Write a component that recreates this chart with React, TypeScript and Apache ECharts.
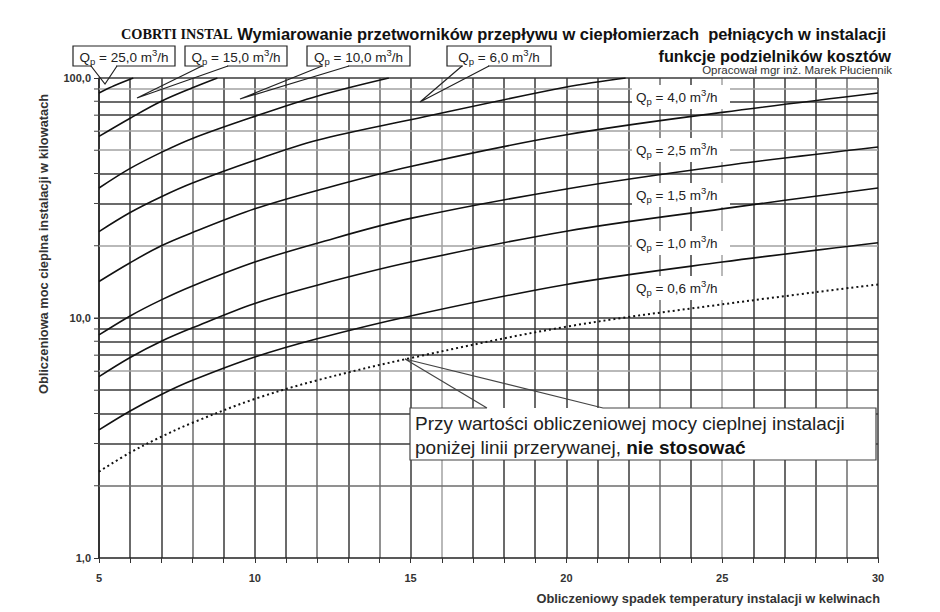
import React, { useEffect, useRef } from 'react';
import * as echarts from 'echarts';

const FONT = "'Liberation Sans', Arial, Helvetica, sans-serif";
const SERIF = "'Liberation Serif', 'Times New Roman', serif";

// ---- axes ----
const xMin = 5;
const xMax = 30;
const yMin = 1;
const yMax = 100;

// ---- series : [ΔT in K, power in kW] ----
const qpNames = ['25,0', '15,0', '10,0', '6,0', '4,0', '2,5', '1,5', '1,0', '0,6'];
const q25 = [[5, 86.6], [5.5, 93], [6.1, 100]];
const q15 = [[5, 57.1], [6, 68], [7, 80], [8, 91], [8.8, 100]];
const q10 = [[5, 34.8], [6, 42], [7, 49], [8, 56], [10, 69.2], [12, 84], [14.3, 100]];
const q6 = [[5, 22.9], [6, 27.5], [7, 32], [8, 36.5], [10, 45.4], [12, 55], [15, 67], [20, 91.7], [21.9, 100]];
const q4 = [[5, 14.2], [6, 17], [7, 20], [8, 22.7], [10, 28.5], [12, 34], [15, 42.8], [20, 58], [25, 71.9], [30, 86.6]];
const q2_5 = [[5, 8.5], [6, 10.2], [7, 11.9], [8, 13.6], [10, 17.1], [12, 20.5], [15, 26], [20, 34.5], [25, 43], [30, 51.6]];
const q1_5 = [[5, 5.7], [6, 6.85], [7, 8], [8, 9.1], [10, 11.5], [12, 13.7], [15, 17.1], [20, 23], [25, 28.5], [30, 34.8]];
const q1_0 = [[5, 3.42], [6, 4.1], [7, 4.8], [8, 5.5], [10, 6.88], [12, 8.2], [15, 10.2], [20, 13.8], [25, 17.1], [30, 20.6]];
const q0_6 = [[5, 2.29], [6, 2.75], [7, 3.2], [8, 3.66], [10, 4.6], [12, 5.5], [15, 6.81], [20, 9.2], [25, 11.4], [30, 13.8]];

// ---- grid lines ----
const yGridValues = [2, 3, 4, 5, 6, 7, 8, 9, 10, 20, 30, 40, 50, 60, 70, 80, 90, 100];
const yGridTones = ['m', 'd', 'd', 'd', 'l', 'd', 'd', 'd', 'd', 'l', 'd', 'd', 'l', 'l', 'd', 'd', 'l', 'd'];
const xGridTones = ['d', 'd', 'd', 'm', 'd', 'd', 'd', 'm', 'd', 'm', 'd', 'l', 'd', 'd', 'd', 'd', 'd', 'd', 'm', 'd', 'l', 'd', 'd', 'd', 'm', 'd'];
const TONE: Record<string, string> = { d: '#3a3a3a', m: '#6c6c6c', l: '#a2a2a2' };

// ---- texts ----
const titleBrand = 'COBRTI INSTAL';
const titleMain = 'Wymiarowanie przetworników przepływu w ciepłomierzach  pełniących w instalacji';
const titleLine2 = 'funkcje podzielników kosztów';
const author = 'Opracował mgr inż. Marek Płuciennik';
const yName = 'Obliczeniowa moc cieplna instalacji w kilowatach';
const xName = 'Obliczeniowy spadek temperatury instalacji w kelwinach';
const noteLine1 = 'Przy wartości obliczeniowej mocy cieplnej instalacji';
const noteLine2a = 'poniżej linii przerywanej, ';
const noteLine2b = 'nie stosować';

const qpRich = (v: string) => `{t|Q}{s|p}{t| = ${v} m}{e|3}{t|/h}`;
const richQ = (fs: number) => ({
  t: { fontSize: fs, fontFamily: FONT, fill: '#222', lineHeight: fs + 5, verticalAlign: 'middle' },
  s: { fontSize: fs - 4, fontFamily: FONT, fill: '#222', lineHeight: fs - 4, verticalAlign: 'bottom' },
  e: { fontSize: fs - 4, fontFamily: FONT, fill: '#222', lineHeight: fs - 4, verticalAlign: 'top' },
});

function topCallout(i: number, bx: number, bw: number, wedge: number[][]) {
  const by = 46;
  const bh = 20;
  return [
    { type: 'rect', z: 20, shape: { x: bx, y: by, width: bw, height: bh }, style: { fill: '#fff', stroke: '#222', lineWidth: 1.2 } },
    { type: 'rect', z: 21, shape: { x: wedge[0][0] + 1, y: by + bh - 1, width: wedge[2][0] - wedge[0][0] - 2, height: 2 }, style: { fill: '#fff' } },
    { type: 'polyline', z: 22, shape: { points: wedge }, style: { fill: 'none', stroke: '#222', lineWidth: 1.2 } },
    {
      type: 'text', z: 23, x: bx + bw / 2, y: by + bh / 2 + 1,
      style: { text: qpRich(qpNames[i]), rich: richQ(13.5), align: 'center', verticalAlign: 'middle' },
    },
  ];
}

function rightLabel(i: number, cy: number) {
  return [
    { type: 'rect', z: 20, shape: { x: 632, y: cy - 12, width: 98, height: 24 }, style: { fill: '#fff' } },
    {
      type: 'text', z: 23, x: 636, y: cy,
      style: { text: qpRich(qpNames[i]), rich: richQ(13.5), align: 'left', verticalAlign: 'middle' },
    },
  ];
}

export default function App() {
  const ref = useRef<HTMLDivElement>(null);
  useEffect(() => {
    if (!ref.current) return;
    const chart = echarts.init(ref.current, undefined, { renderer: 'svg' });

    const curves = [q25, q15, q10, q6, q4, q2_5, q1_5, q1_0, q0_6];
    const curveSeries = curves.map((d, i) => ({
      type: 'line',
      name: 'Qp ' + qpNames[i],
      data: d,
      z: 5,
      smooth: 0.35,
      symbol: 'none',
      clip: true,
      lineStyle: i === 8
        ? { color: '#111', width: 2, type: [2, 3] }
        : { color: '#111', width: 1.6 },
    }));

    const gridSeries = {
      type: 'line',
      data: [],
      z: 1,
      symbol: 'none',
      silent: true,
      markLine: {
        silent: true,
        symbol: 'none',
        animation: false,
        label: { show: false },
        data: yGridValues.map((v, i) => ({
          yAxis: v,
          lineStyle: { color: TONE[yGridTones[i]], width: 1.5, type: 'solid' },
        })),
      },
    };

    // small outward ticks on the y axis at every minor grid value
    const minorTickSeries = {
      type: 'custom',
      z: 2,
      silent: true,
      clip: false,
      data: yGridValues.slice(0, -1).map((v) => [xMin, v]),
      renderItem: (params: any, api: any) => {
        const p = api.coord([api.value(0), api.value(1)]);
        return {
          type: 'line',
          shape: { x1: p[0] - 5, y1: p[1], x2: p[0], y2: p[1] },
          style: { stroke: '#444', lineWidth: 1 },
        };
      },
    };

    const graphics: any[] = [
      {
        type: 'text', z: 30, x: 121, y: 34,
        style: {
          text: `{a|${titleBrand}}{b| ${titleMain}}`,
          align: 'left', verticalAlign: 'middle',
          rich: {
            a: { fontFamily: SERIF, fontWeight: 'bold', fontSize: 14.3, fill: '#111' },
            b: { fontFamily: FONT, fontWeight: 'bold', fontSize: 16.5, fill: '#111' },
          },
        },
      },
      {
        type: 'text', z: 30, x: 891, y: 56,
        style: { text: titleLine2, fontFamily: FONT, fontWeight: 'bold', fontSize: 16.3, fill: '#111', align: 'right', verticalAlign: 'middle' },
      },
      {
        type: 'text', z: 30, x: 892, y: 70,
        style: { text: author, fontFamily: FONT, fontSize: 11.5, fill: '#333', align: 'right', verticalAlign: 'middle' },
      },
      {
        type: 'text', z: 30, x: 43, y: 244, rotation: Math.PI / 2,
        style: { text: yName, fontFamily: FONT, fontWeight: 'bold', fontSize: 12.8, fill: '#333', align: 'center', verticalAlign: 'middle' },
      },
      {
        type: 'text', z: 30, x: 880, y: 598,
        style: { text: xName, fontFamily: FONT, fontWeight: 'bold', fontSize: 12.8, fill: '#333', align: 'right', verticalAlign: 'middle' },
      },
      ...topCallout(0, 73, 102, [[91, 66], [105, 84], [117, 66]]),
      ...topCallout(1, 185, 102, [[202, 66], [137, 98], [228, 66]]),
      ...topCallout(2, 307, 103, [[322, 66], [240, 99], [349, 66]]),
      ...topCallout(3, 447, 104, [[462, 66], [420, 102], [489, 66]]),
      ...rightLabel(4, 97),
      ...rightLabel(5, 150),
      ...rightLabel(6, 195),
      ...rightLabel(7, 243),
      ...rightLabel(8, 288),
      { type: 'rect', z: 20, shape: { x: 410, y: 408, width: 466, height: 52 }, style: { fill: '#fff' } },
      {
        type: 'polyline', z: 22,
        shape: { points: [[487, 408], [410, 408], [410, 460], [876, 460], [876, 408], [603, 408], [405, 359], [487, 408]] },
        style: { fill: 'none', stroke: '#444', lineWidth: 1.2 },
      },
      {
        type: 'text', z: 23, x: 415, y: 423,
        style: { text: noteLine1, fontFamily: FONT, fontSize: 19, fill: '#222', align: 'left', verticalAlign: 'middle' },
      },
      {
        type: 'text', z: 23, x: 415, y: 447,
        style: {
          text: `{r|${noteLine2a}}{b|${noteLine2b}}`,
          align: 'left', verticalAlign: 'middle',
          rich: {
            r: { fontFamily: FONT, fontSize: 19, fill: '#222' },
            b: { fontFamily: FONT, fontSize: 19, fontWeight: 'bold', fill: '#111' },
          },
        },
      },
    ];

    chart.setOption({
      animation: false,
      backgroundColor: '#fff',
      grid: { left: 99, right: 62, top: 78, bottom: 54, containLabel: false },
      xAxis: {
        type: 'value',
        min: xMin,
        max: xMax,
        interval: 1,
        axisLine: { show: true, lineStyle: { color: '#222', width: 1.5 } },
        axisTick: { show: true, length: 5, lineStyle: { color: '#333', width: 1 } },
        axisLabel: {
          margin: 14,
          fontFamily: FONT,
          fontSize: 11,
          fontWeight: 'bold',
          color: '#333',
          formatter: (v: number) => (v % 5 === 0 ? String(v) : ''),
        },
        splitLine: { show: true, lineStyle: { color: xGridTones.map((t) => TONE[t]), width: 1.5 } },
      },
      yAxis: {
        type: 'log',
        logBase: 10,
        min: yMin,
        max: yMax,
        axisLine: { show: true, lineStyle: { color: '#222', width: 1.5 } },
        axisTick: { show: true, length: 5, lineStyle: { color: '#333' } },
        axisLabel: {
          margin: 8,
          fontFamily: FONT,
          fontSize: 11,
          fontWeight: 'bold',
          color: '#333',
          formatter: (v: number) => v.toFixed(1).replace('.', ','),
        },
        splitLine: { show: false },
      },
      series: [gridSeries, minorTickSeries, ...curveSeries],
      graphic: graphics,
    });
    return () => chart.dispose();
  }, []);
  return (
    <div
      ref={ref}
      style={{ position: 'fixed', left: 0, top: 0, width: 940, height: 612, background: '#fff' }}
    />
  );
}
